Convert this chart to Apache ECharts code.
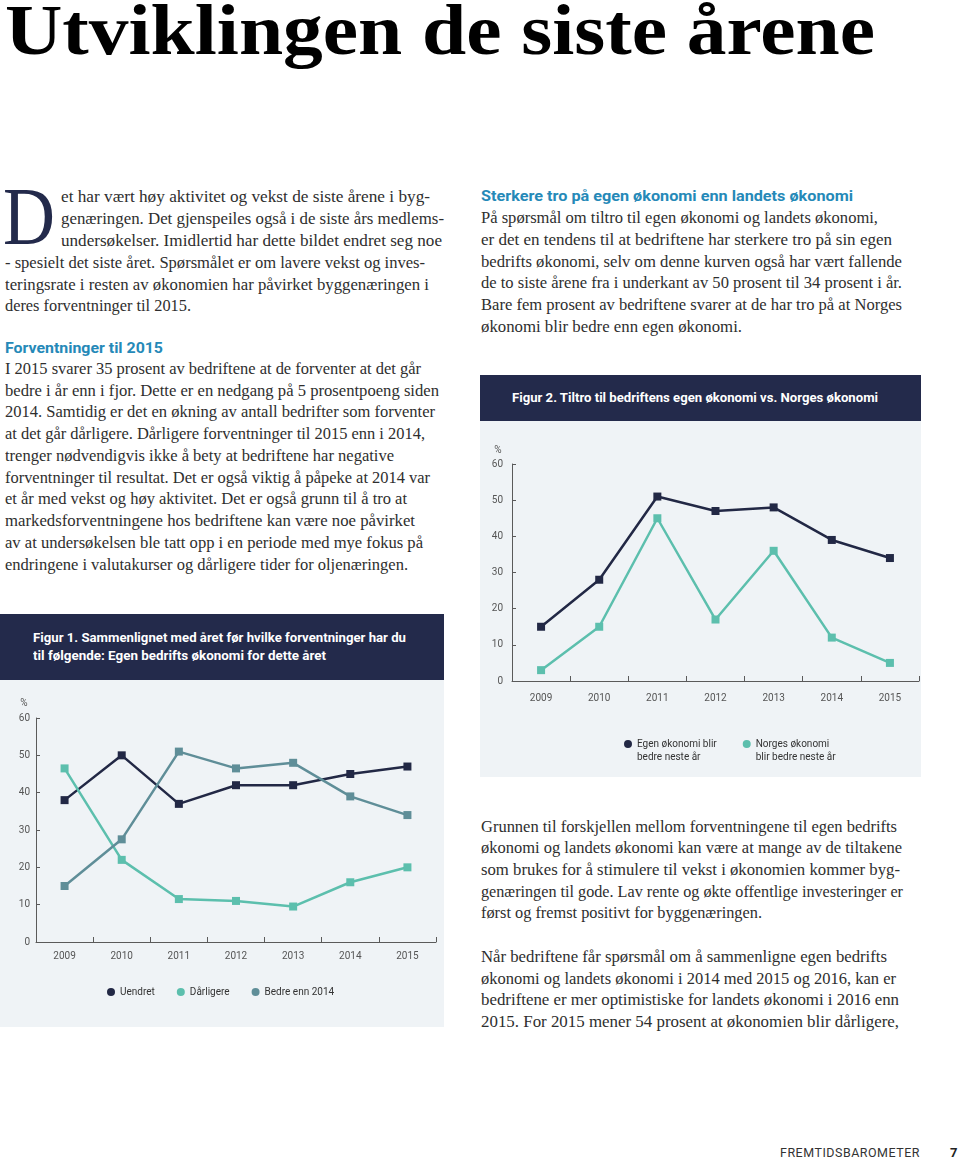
<!DOCTYPE html>
<html><head><meta charset="utf-8">
<script src="https://cdn.jsdelivr.net/npm/echarts@6/dist/echarts.min.js"></script>
<style>
html,body{margin:0;padding:0;background:#fff;}
body{width:960px;height:1161px;position:relative;overflow:hidden;}
.t{position:absolute;white-space:nowrap;transform-origin:0 50%;}
.title{font-family:"Liberation Serif",serif;font-weight:700;font-size:72px;color:#000;line-height:72px;}
.dc{font-family:"Liberation Serif",serif;font-size:82px;color:#232a4b;line-height:82px;}
.b{font-family:"Liberation Serif",serif;font-size:16px;color:#2e2e2e;line-height:22px;}
.h{font-family:Roboto,sans-serif;font-weight:700;font-size:14px;color:#2589b8;line-height:20px;}
.cap{font-family:Roboto,sans-serif;font-weight:700;font-size:12.5px;color:#fff;line-height:18px;}
.ft{font-family:Roboto,sans-serif;font-size:12px;color:#333;line-height:16px;letter-spacing:0.5px;}
.ftb{font-family:Roboto,sans-serif;font-weight:700;font-size:13px;color:#222;line-height:16px;}
.box{position:absolute;}
</style></head>
<body>
<div class="box" style="left:0;top:614px;width:444px;height:66px;background:#232a4b"></div>
<div class="box" id="c1" style="left:0;top:680px;width:444px;height:347px;background:#eff3f6"></div>
<div class="box" style="left:480px;top:375px;width:441px;height:46px;background:#232a4b"></div>
<div class="box" id="c2" style="left:480px;top:421px;width:441px;height:356px;background:#eff3f6"></div>
<script>
// ---- data ----
const years = ['2009', '2010', '2011', '2012', '2013', '2014', '2015'];
const uendret = [38, 50, 37, 42, 42, 45, 47];
const darligere = [46.5, 22, 11.5, 11, 9.5, 16, 20];
const bedreEnn2014 = [15, 27.5, 51, 46.5, 48, 39, 34];
const egenOkonomi = [15, 28, 51, 47, 48, 39, 34];
const norgesOkonomi = [3, 15, 45, 17, 36, 12, 5];
const fig1Names = ['Uendret', 'Dårligere', 'Bedre enn 2014'];
const fig2Names = ['Egen økonomi blir\nbedre neste år', 'Norges økonomi\nblir bedre neste år'];

// ---- page text: [text, class, x, centerY, targetWidth] ----
const lines = [
 ['Utviklingen de siste årene','title',5,30,870],
 ['D','dc',3,217,52],
 ['et har vært høy aktivitet og vekst de siste årene i byg-','b',61,197,369],
 ['genæringen. Det gjenspeiles også i de siste års medlems-','b',61,219,383],
 ['undersøkelser. Imidlertid har dette bildet endret seg noe','b',61,241,381],
 ['- spesielt det siste året. Spørsmålet er om lavere vekst og inves-','b',5,263,420],
 ['teringsrate i resten av økonomien har påvirket byggenæringen i','b',5,285,424],
 ['deres forventninger til 2015.','b',5,306,186],
 ['Forventninger til 2015','h',5,348,158],
 ['I 2015 svarer 35 prosent av bedriftene at de forventer at det går','b',5,369,416],
 ['bedre i år enn i fjor. Dette er en nedgang på 5 prosentpoeng siden','b',5,391,434],
 ['2014. Samtidig er det en økning av antall bedrifter som forventer','b',5,412,430],
 ['at det går dårligere. Dårligere forventninger til 2015 enn i 2014,','b',5,434,420],
 ['trenger nødvendigvis ikke å bety at bedriftene har negative','b',5,456,389],
 ['forventninger til resultat. Det er også viktig å påpeke at 2014 var','b',5,478,425],
 ['et år med vekst og høy aktivitet. Det er også grunn til å tro at','b',5,499,402],
 ['markedsforventningene hos bedriftene kan være noe påvirket','b',5,521,410],
 ['av at undersøkelsen ble tatt opp i en periode med mye fokus på','b',5,543,418],
 ['endringene i valutakurser og dårligere tider for oljenæringen.','b',5,565,403],
 ['Sterkere tro på egen økonomi enn landets økonomi','h',481,196,372],
 ['På spørsmål om tiltro til egen økonomi og landets økonomi,','b',481,218,397],
 ['er det en tendens til at bedriftene har sterkere tro på sin egen','b',481,240,411],
 ['bedrifts økonomi, selv om denne kurven også har vært fallende','b',481,262,421],
 ['de to siste årene fra i underkant av 50 prosent til 34 prosent i år.','b',481,283,421],
 ['Bare fem prosent av bedriftene svarer at de har tro på at Norges','b',481,305,421],
 ['økonomi blir bedre enn egen økonomi.','b',481,327,261],
 ['Figur 2. Tiltro til bedriftens egen økonomi vs. Norges økonomi','cap',512,398,366],
 ['Figur 1. Sammenlignet med året før hvilke forventninger har du','cap',33,638,373],
 ['til følgende: Egen bedrifts økonomi for dette året','cap',33,656,293],
 ['Grunnen til forskjellen mellom forventningene til egen bedrifts','b',481,827,416],
 ['økonomi og landets økonomi kan være at mange av de tiltakene','b',481,848,421],
 ['som brukes for å stimulere til vekst i økonomien kommer byg-','b',481,870,419],
 ['genæringen til gode. Lav rente og økte offentlige investeringer er','b',481,892,422],
 ['først og fremst positivt for byggenæringen.','b',481,913,281],
 ['Når bedriftene får spørsmål om å sammenligne egen bedrifts','b',481,957,406],
 ['økonomi og landets økonomi i 2014 med 2015 og 2016, kan er','b',481,979,415],
 ['bedriftene er mer optimistiske for landets økonomi i 2016 enn','b',481,1000,418],
 ['2015. For 2015 mener 54 prosent at økonomien blir dårligere,','b',481,1022,418],
 ['FREMTIDSBAROMETER','ft',780,1153,140],
 ['7','ftb',950,1153,0]
];
lines.forEach(([txt, cls, x, y, w]) => {
  const d = document.createElement('div');
  d.className = 't ' + cls;
  d.textContent = txt;
  document.body.appendChild(d);
  const lh = parseFloat(getComputedStyle(d).lineHeight);
  d.style.left = x + 'px';
  d.style.top = (y - lh / 2) + 'px';
  if (w) {
    const aw = d.getBoundingClientRect().width;
    d.style.transform = 'scaleX(' + (w / aw) + ')';
  }
});

// ---- charts ----
const axisColor = '#5a5a5a';
const lblFont = {color: '#555', fontSize: 10, fontFamily: 'Roboto, sans-serif'};
function makeAxes(xMargin, yMargin) {
  return {
    xAxis: {
      type: 'category', data: years, boundaryGap: true,
      axisLine: {lineStyle: {color: axisColor, width: 1}},
      axisTick: {show: true, inside: true, length: 5, lineStyle: {color: axisColor}},
      axisLabel: Object.assign({margin: xMargin}, lblFont),
      splitLine: {show: false}
    },
    yAxis: {
      type: 'value', min: 0, max: 60, interval: 10,
      name: '%', nameLocation: 'end', nameGap: 10,
      nameTextStyle: Object.assign({padding: [0, 24, 0, 0]}, lblFont),
      axisLine: {show: true, lineStyle: {color: axisColor, width: 1}},
      axisTick: {show: true, inside: true, length: 4, lineStyle: {color: axisColor}},
      axisLabel: Object.assign({margin: yMargin}, lblFont),
      splitLine: {show: false}
    }
  };
}
function line(name, data, color) {
  return {
    type: 'line', name: name, data: data, symbol: 'rect', symbolSize: 8,
    lineStyle: {color: color, width: 2.5}, itemStyle: {color: color, borderWidth: 0},
    emphasis: {disabled: true}
  };
}
const cNavy = '#222845', cTeal = '#5cbfad', cGray = '#5f8e98';

const ch1 = echarts.init(document.getElementById('c1'), null, {renderer: 'canvas'});
const a1 = makeAxes(9, 6);
ch1.setOption({
  animation: false,
  grid: {left: 36, top: 38, width: 400, height: 224, containLabel: false},
  xAxis: a1.xAxis, yAxis: a1.yAxis,
  legend: {
    left: 102, top: 300.5, icon: 'circle', itemWidth: 8, itemHeight: 8, itemGap: 22,
    textStyle: {color: '#333', fontSize: 10, fontFamily: 'Roboto, sans-serif', lineHeight: 13},
    data: fig1Names
  },
  series: [
    line(fig1Names[0], uendret, cNavy),
    line(fig1Names[1], darligere, cTeal),
    line(fig1Names[2], bedreEnn2014, cGray)
  ]
});

const ch2 = echarts.init(document.getElementById('c2'), null, {renderer: 'canvas'});
const a2 = makeAxes(12, 9);
a2.yAxis.nameGap = 9;
a2.yAxis.nameTextStyle.padding = [0, 28, 0, 0];
ch2.setOption({
  animation: false,
  grid: {left: 32, top: 43, width: 407, height: 217, containLabel: false},
  xAxis: a2.xAxis, yAxis: a2.yAxis,
  legend: {
    left: 139, top: 311.5,
    icon: 'path://M0,5A5,5 0 1,0 10,5A5,5 0 1,0 0,5ZM5,26L5,26',
    symbolKeepAspect: true,
    itemWidth: 8, itemHeight: 21, itemGap: 26,
    itemStyle: {borderWidth: 0},
    textStyle: {color: '#333', fontSize: 10, fontFamily: 'Roboto, sans-serif', lineHeight: 13},
    data: fig2Names
  },
  series: [
    line(fig2Names[0], egenOkonomi, cNavy),
    line(fig2Names[1], norgesOkonomi, cTeal)
  ]
});
</script>
</body></html>
